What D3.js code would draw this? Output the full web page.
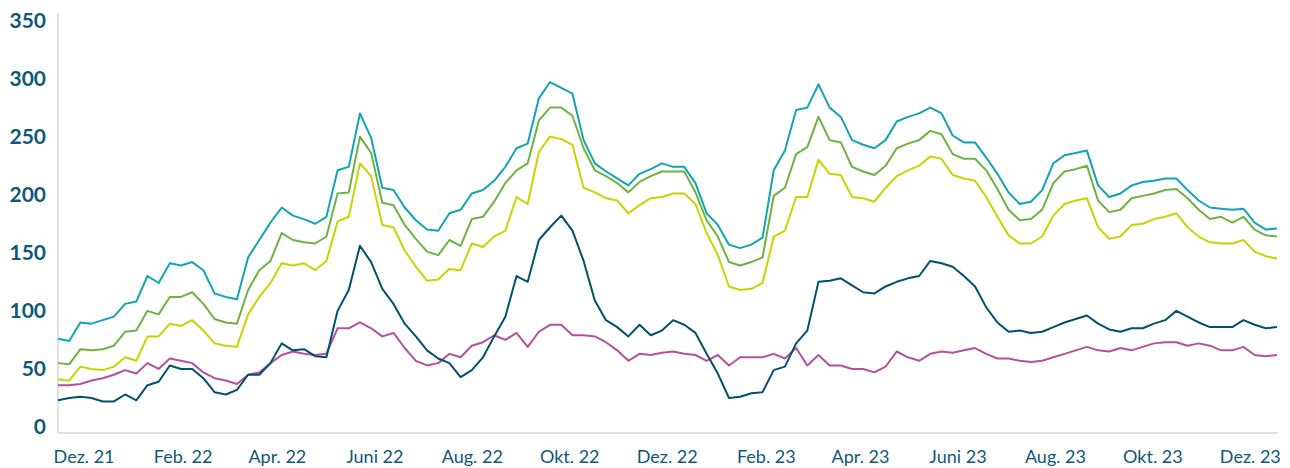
<!DOCTYPE html>
<html>
<head>
<meta charset="utf-8">
<script src="https://cdn.jsdelivr.net/npm/d3@7"></script>
<style>
  body { margin: 0; background: #fff; }
  #vis { width: 1290px; height: 468px; }
  text { font-family: Lato, "Open Sans", sans-serif; }
</style>
</head>
<body>
<div id="vis"></div>
<script>
// weekly points, first one mid Nov 2021
var start_date = new Date(2021, 10, 15);

var teal = [76, 74, 90, 89, 92, 95, 106, 108, 130, 124, 141, 139, 142, 135, 115, 112, 110, 146, 161, 176, 189, 182, 179, 175, 181, 221, 224, 270,
  249, 206, 204, 189, 178, 170, 169, 184, 187, 201, 204, 212, 224, 240, 244, 283, 297, 292, 287, 247, 227, 220, 214, 208, 218, 222, 227,
  224, 224, 210, 184, 174, 157, 154, 157, 163, 221, 238, 273, 275, 295, 275, 267, 247, 243, 240, 247, 263, 267, 270, 275, 270, 251, 245,
  245, 232, 218, 202, 192, 194, 204, 227, 234, 236, 238, 208, 198, 201, 208, 211, 212, 214, 214, 204, 195, 189, 188, 187, 188, 176, 170, 171];

var green = [55, 54, 67, 66, 67, 70, 82, 83, 100, 97, 112, 112, 116, 106, 93, 90, 89, 118, 135, 143, 167, 161, 159, 158, 164, 201, 202, 250,
  236, 193, 191, 174, 162, 151, 148, 161, 156, 179, 181, 194, 210, 221, 227, 264, 275, 275, 268, 240, 221, 216, 210, 202, 211, 216, 220,
  220, 220, 202, 178, 164, 142, 139, 142, 146, 199, 206, 235, 241, 267, 247, 245, 224, 220, 217, 225, 240, 244, 247, 255, 252, 235, 231,
  231, 221, 205, 187, 178, 179, 187, 210, 220, 222, 225, 195, 185, 187, 197, 199, 201, 204, 205, 197, 187, 179, 181, 176, 181, 170, 165, 164];

var yellow = [41, 40, 52, 50, 49, 52, 60, 57, 78, 78, 89, 87, 92, 83, 72, 70, 69, 97, 112, 124, 141, 139, 141, 135, 143, 177, 181, 227,
  216, 174, 172, 152, 138, 126, 127, 136, 135, 158, 155, 164, 169, 198, 192, 237, 250, 248, 243, 206, 202, 197, 195, 184, 191, 197, 198,
  201, 201, 192, 167, 148, 121, 118, 119, 124, 164, 169, 198, 198, 230, 218, 217, 198, 197, 194, 206, 216, 221, 225, 233, 231, 217, 214,
  212, 198, 181, 165, 158, 158, 164, 182, 192, 195, 197, 172, 162, 164, 174, 175, 179, 181, 184, 172, 164, 159, 158, 158, 161, 151, 147, 145];

var darkblue = [23, 25, 26, 25, 22, 22, 28, 23, 36, 39, 53, 50, 50, 42, 30, 28, 32, 45, 45, 55, 72, 66, 67, 61, 60, 100, 118, 156,
  142, 119, 106, 89, 78, 66, 59, 55, 43, 49, 60, 78, 95, 130, 125, 161, 172, 182, 169, 143, 109, 92, 86, 78, 88, 79, 83,
  92, 88, 81, 63, 46, 25, 26, 29, 30, 49, 52, 72, 83, 125, 126, 128, 122, 116, 115, 121, 125, 128, 130, 143, 141, 138, 130,
  121, 103, 90, 82, 83, 81, 82, 86, 90, 93, 96, 89, 84, 82, 85, 85, 89, 92, 100, 95, 90, 86, 86, 86, 92, 88, 85, 86];

var magenta = [36, 36, 37, 40, 42, 45, 49, 46, 55, 50, 59, 57, 55, 47, 42, 40, 37, 45, 47, 55, 62, 65, 63, 62, 63, 85, 85, 90,
  85, 78, 81, 68, 57, 53, 55, 63, 60, 70, 73, 79, 75, 81, 69, 82, 88, 88, 79, 79, 78, 73, 66, 57, 63, 62, 64,
  65, 63, 62, 57, 62, 53, 60, 60, 60, 63, 59, 68, 53, 62, 53, 53, 50, 50, 47, 52, 65, 60, 57, 63, 65, 64, 66,
  68, 63, 59, 59, 57, 56, 57, 60, 63, 66, 69, 66, 65, 68, 66, 69, 72, 73, 73, 70, 72, 70, 66, 66, 69, 62, 61, 62];

var tick_labels = ["Dez. 21", "Feb. 22", "Apr. 22", "Juni 22", "Aug. 22", "Okt. 22", "Dez. 22",
  "Feb. 23", "Apr. 23", "Juni 23", "Aug. 23", "Okt. 23", "Dez. 23"];
var tick_dates = [new Date(2021, 11, 1), new Date(2022, 1, 1), new Date(2022, 3, 1), new Date(2022, 5, 1),
  new Date(2022, 7, 1), new Date(2022, 9, 1), new Date(2022, 11, 1), new Date(2023, 1, 1), new Date(2023, 3, 1),
  new Date(2023, 5, 1), new Date(2023, 7, 1), new Date(2023, 9, 1), new Date(2023, 11, 1)];
var y_ticks = [0, 50, 100, 150, 200, 250, 300, 350];

var series = [
  {name: 'magenta', values: magenta, color: '#b4519c'},
  {name: 'darkblue', values: darkblue, color: '#00506f'},
  {name: 'yellow', values: yellow, color: '#c8d400'},
  {name: 'green', values: green, color: '#6db33f'},
  {name: 'teal', values: teal, color: '#12a4b4'}
];

var dates = teal.map(function(d, i) { return d3.timeDay.offset(start_date, 7 * i); });

var text_color = '#0f5877';
var width = 1290, height = 468;

var svg = d3.select('#vis')
  .append('svg')
  .attr('width', width)
  .attr('height', height);

var x_scale = d3.scaleTime()
  .domain([dates[0], dates[dates.length - 1]])
  .range([58, 1277]);

var y_scale = d3.scaleLinear()
  .domain([0, 350])
  .range([427, 20.5]);

// axis lines
svg.append('line')
  .attr('x1', 58).attr('x2', 58).attr('y1', 13).attr('y2', 433)
  .attr('stroke', '#d6d6d6').attr('stroke-width', 1.5);
svg.append('line')
  .attr('x1', 58).attr('x2', 1278).attr('y1', 433).attr('y2', 433)
  .attr('stroke', '#d6d6d6').attr('stroke-width', 1.5);

var y_axis = d3.axisLeft(y_scale).tickValues(y_ticks).tickSize(0).tickPadding(0);
var y_g = svg.append('g')
  .attr('transform', 'translate(46,0)')
  .call(y_axis);
y_g.select('.domain').remove();
y_g.selectAll('text')
  .style('font-family', 'Lato, sans-serif')
  .style('font-size', '21px')
  .style('font-weight', 'bold')
  .attr('fill', text_color);

var x_axis = d3.axisBottom(x_scale)
  .tickValues(tick_dates)
  .tickFormat(function(d, i) { return tick_labels[i]; })
  .tickSize(0)
  .tickPadding(0);
var x_g = svg.append('g')
  .attr('transform', 'translate(0,450)')
  .call(x_axis);
x_g.select('.domain').remove();
x_g.selectAll('text')
  .style('font-family', 'Lato, sans-serif')
  .style('font-size', '18px')
  .attr('fill', text_color);

var line = d3.line()
  .x(function(d, i) { return x_scale(dates[i]); })
  .y(function(d) { return y_scale(d); });

svg.selectAll('.series')
  .data(series)
  .enter()
  .append('path')
  .attr('class', 'series')
  .attr('d', function(s) { return line(s.values); })
  .attr('fill', 'none')
  .attr('stroke', function(s) { return s.color; })
  .attr('stroke-width', 2)
  .attr('stroke-linejoin', 'round');
</script>
</body>
</html>
